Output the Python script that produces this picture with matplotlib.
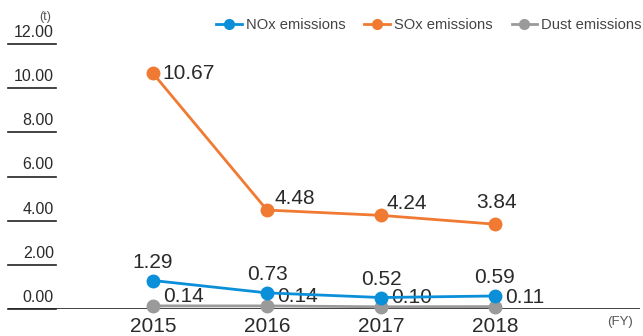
import matplotlib.pyplot as plt
from matplotlib.lines import Line2D

plt.rcParams['font.family'] = ['Liberation Sans', 'DejaVu Sans']

# emissions per fiscal year (t)
years = [2015, 2016, 2017, 2018]
nox = [1.29, 0.73, 0.52, 0.59]
sox = [10.67, 4.48, 4.24, 3.84]
dust = [0.14, 0.14, 0.10, 0.11]
yticks = [0, 2, 4, 6, 8, 10, 12]

blue = '#0a8fd8'
orange = '#f07a32'
gray = '#9a9a9a'
txt = '#2a2a2a'

W, H = 643, 336
fig = plt.figure(figsize=(W / 100, H / 100), dpi=100)
ax = fig.add_axes([8 / W, (H - 309) / H, (640 - 8) / W, (309 - 44) / H])
ax.set_xlim(2013.728, 2019.272)
ax.set_ylim(0, 12)
ax.axis('off')

# baseline and short tick lines on the left
ax.axhline(0, color='#222222', lw=1.2, zorder=1)
for v in yticks:
    ax.plot([2013.728, 2014.149], [v, v], color='#222222', lw=1.2, clip_on=False)
    ax.annotate(f'{v:.2f}', (2014.13, v), xytext=(0, 3), textcoords='offset points',
                ha='right', va='bottom', fontsize=11.5, color=txt)

fig.text(45 / W, 1 - 17 / H, '(t)', ha='center', va='center', fontsize=9, color='#555555')
fig.text(633 / W, 1 - 322 / H, '(FY)', ha='right', va='center', fontsize=9.5, color='#555555')

ms = 9
ax.plot(years, dust, color=gray, lw=2, marker='o', ms=ms, zorder=3, clip_on=False)
ax.plot(years, nox, color=blue, lw=2, marker='o', ms=ms, zorder=4, clip_on=False)
ax.plot(years, sox, color=orange, lw=2, marker='o', ms=ms, zorder=4, clip_on=False)

k = 0.72  # px -> pt
fs = 15
sox_off = [(9, 0, 'left'), (7, 12, 'left'), (6, 12, 'left'), (2, 22, 'center')]
for x, v, (dx, dy, ha) in zip(years, sox, sox_off):
    ax.annotate(f'{v:.2f}', (x, v), xytext=(dx * k, dy * k), textcoords='offset points',
                ha=ha, va='center', fontsize=fs, color=txt)
for x, v in zip(years, nox):
    ax.annotate(f'{v:.2f}', (x, v), xytext=(0, 18 * k), textcoords='offset points',
                ha='center', va='center', fontsize=fs, color=txt)
for x, v in zip(years, dust):
    ax.annotate(f'{v:.2f}', (x, v), xytext=(10 * k, 9 * k), textcoords='offset points',
                ha='left', va='center', fontsize=fs, color=txt)

for x in years:
    ax.annotate(str(x), (x, 0), xytext=(0, -18 * k), textcoords='offset points',
                ha='center', va='center', fontsize=fs, color=txt)

handles = [Line2D([], [], color=c, lw=2, marker='o', ms=7) for c in (blue, orange, gray)]
fig.legend(handles, ['NOx emissions', 'SOx emissions', 'Dust emissions'],
           loc='center right', bbox_to_anchor=(1.0, 1 - 25 / H), ncol=3, frameon=False,
           fontsize=10.6, handlelength=1.75, handletextpad=0.25, columnspacing=1.3,
           labelcolor='#444444', borderaxespad=0.0, borderpad=0.1)

fig.savefig('out.png', dpi=100)
